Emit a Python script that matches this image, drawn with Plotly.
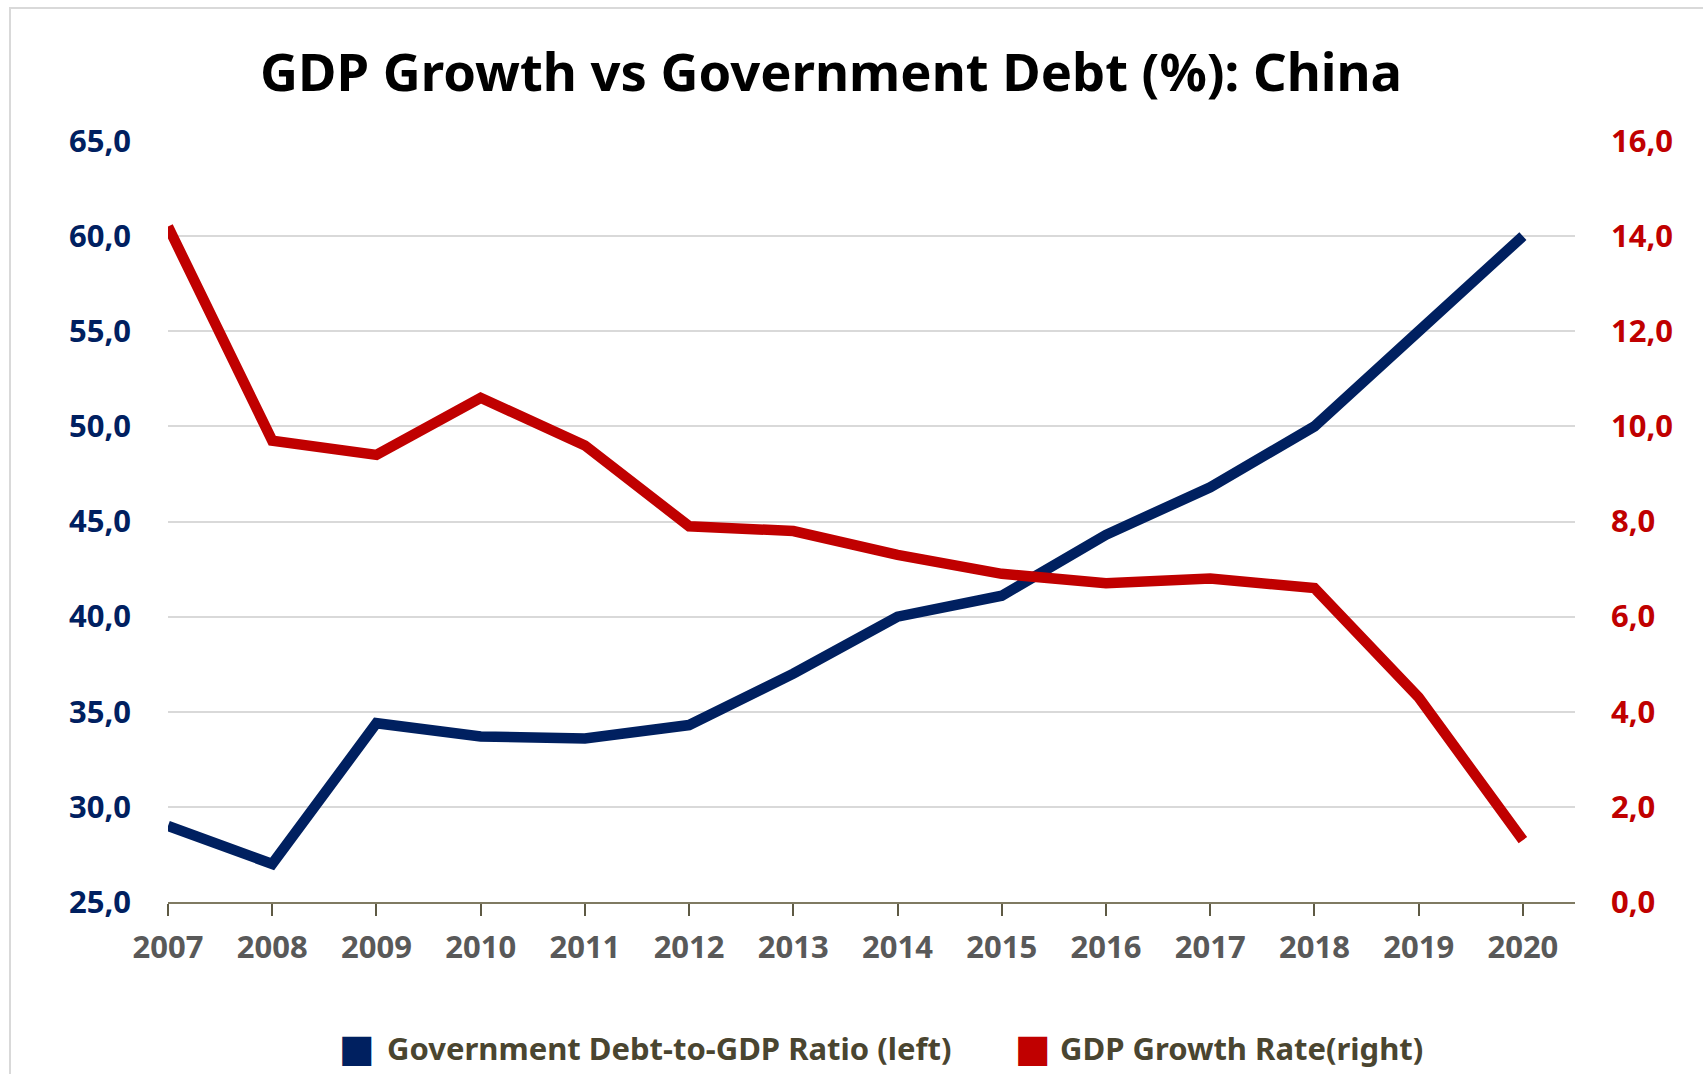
import plotly.graph_objects as go

years = [2007, 2008, 2009, 2010, 2011, 2012, 2013, 2014, 2015, 2016, 2017, 2018, 2019, 2020]
debt_ratio = [29.0, 27.0, 34.4, 33.7, 33.6, 34.3, 37.0, 40.0, 41.1, 44.3, 46.8, 50.0, 55.0, 60.0]
gdp_growth = [14.2, 9.7, 9.4, 10.6, 9.6, 7.9, 7.8, 7.3, 6.9, 6.7, 6.8, 6.6, 4.3, 1.3]

left_ticks = [25, 30, 35, 40, 45, 50, 55, 60, 65]
right_ticks = [0, 2, 4, 6, 8, 10, 12, 14, 16]

series_names = ["Government Debt-to-GDP Ratio (left)", "GDP Growth Rate(right)"]

NAVY = "#002060"
RED = "#C00000"
LEGEND_TXT = "#4a4530"
FONT = "Noto Sans"

fig = go.Figure()
fig.add_trace(go.Scatter(x=years, y=debt_ratio, mode="lines", yaxis="y", name=series_names[0],
                         line=dict(color=NAVY, width=10.5), showlegend=False))
fig.add_trace(go.Scatter(x=years, y=gdp_growth, mode="lines", yaxis="y2", name=series_names[1],
                         line=dict(color=RED, width=10.5), showlegend=False))

L, R, T, B = 168, 128, 141, 172
pw, ph = 1703 - L - R, 1074 - T - B

def px_x(x):
    return (x - L) / pw

def px_y(y):
    return (1074 - y - B) / ph

# custom legend (square swatches + labels)
legend_y = 1048
annotations = []
for sx, tx, color, name in [(357, 385, NAVY, series_names[0]), (1033, 1058, RED, series_names[1])]:
    annotations.append(dict(text="■", x=px_x(sx), y=px_y(legend_y), xref="paper", yref="paper",
                            xanchor="center", yanchor="middle", showarrow=False,
                            font=dict(size=38, color=color, family="DejaVu Sans")))
    annotations.append(dict(text=f"<b>{name}</b>", x=px_x(tx), y=px_y(legend_y), xref="paper", yref="paper",
                            xanchor="left", yanchor="middle", showarrow=False,
                            font=dict(size=31, color=LEGEND_TXT, family=FONT)))

fig.update_layout(
    width=1703, height=1074,
    margin=dict(l=L, r=R, t=T, b=B),
    paper_bgcolor="white", plot_bgcolor="white",
    separators=",.",
    font=dict(family=FONT),
    showlegend=False,
    title=dict(text="<b>GDP Growth vs Government Debt (%): China</b>",
               x=0.488, xanchor="center", y=1 - 73 / 1074, yanchor="middle",
               font=dict(size=52.5, color="black", family=FONT)),
    xaxis=dict(range=[2007, 2020.5], tickvals=years, ticktext=[str(y) for y in years],
               showgrid=False, showline=True, linecolor="#7f7a62", linewidth=2,
               ticks="outside", ticklen=12, tickwidth=2, tickcolor="#5e5a44",
               tickfont=dict(size=31, color="#595959", family=FONT, weight="bold"),
               ticklabelstandoff=5, zeroline=False),
    yaxis=dict(range=[25, 65], tickvals=left_ticks, tickformat=".1f",
               showgrid=True, gridcolor="#D9D9D9", gridwidth=2,
               tickfont=dict(size=31, color=NAVY, family=FONT, weight="bold"),
               ticks="", ticklabelstandoff=36, zeroline=False, showline=False),
    yaxis2=dict(range=[0, 16], tickvals=right_ticks, tickformat=".1f", overlaying="y", side="right",
                showgrid=False, tickfont=dict(size=31, color=RED, family=FONT, weight="bold"),
                ticks="", ticklabelstandoff=35, zeroline=False, showline=False),
    annotations=annotations,
    shapes=[dict(type="rect", xref="paper", yref="paper",
                 x0=px_x(10), x1=1.2, y0=-0.5, y1=px_y(8),
                 line=dict(color="#D9D9D9", width=2), fillcolor="rgba(0,0,0,0)", layer="below")],
)

fig.write_html("out.html")
